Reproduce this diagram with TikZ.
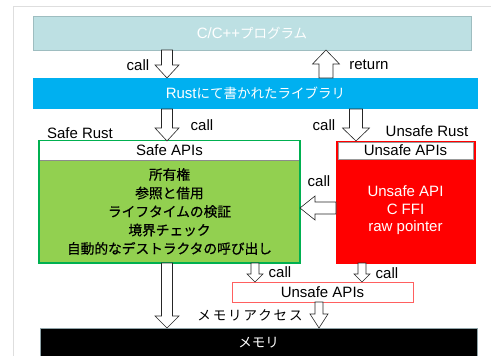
\documentclass[tikz,border=0pt]{standalone}
\usepackage{fontspec}
\setmainfont{Liberation Sans}
\newfontfamily\jp{Noto Sans CJK JP}
\newfontfamily\jpb[FakeBold=0.6]{Noto Sans CJK JP}
\newfontfamily\jps[LetterSpace=14]{Noto Sans CJK JP}
\usetikzlibrary{calc}
\definecolor{teal0}{HTML}{BDE0E3}
\definecolor{tealb}{HTML}{9EBDC0}
\definecolor{rustblue}{HTML}{00B0F0}
\definecolor{gfill}{HTML}{92D050}
\definecolor{gline}{HTML}{00B050}
\definecolor{uline}{HTML}{FF6060}
\definecolor{framec}{HTML}{DEDEDE}
\definecolor{memb}{HTML}{8FA3A8}
\newcommand\lat{\fontsize{15}{17.5}\selectfont}
\newcommand\jap{\jp\fontsize{13.5}{18.5}\selectfont}
\newcommand\japb{\jpb\fontsize{13.7}{18.5}\selectfont}
\tikzset{
  blkS/.store in=\blkS, blkH/.store in=\blkH, blkL/.store in=\blkL,
  blk/.style={draw=black!85, fill=white, line width=0.6pt, line join=miter,
    blkS=5.5, blkH=12, blkL=13,
    to path={($(\tikztostart)!\blkS pt!90:(\tikztotarget)$)
      -- ($(\tikztotarget)!\blkL pt!(\tikztostart)!\blkS pt!90:(\tikztotarget)$)
      -- ($(\tikztotarget)!\blkL pt!(\tikztostart)!\blkH pt!90:(\tikztotarget)$)
      -- (\tikztotarget)
      -- ($(\tikztotarget)!\blkL pt!(\tikztostart)!\blkH pt!-90:(\tikztotarget)$)
      -- ($(\tikztotarget)!\blkL pt!(\tikztostart)!\blkS pt!-90:(\tikztotarget)$)
      -- ($(\tikztostart)!\blkS pt!-90:(\tikztotarget)$) -- cycle}},
  small blk/.style={blk, blkS=4, blkH=8, blkL=8},
  mid blk/.style={blk, blkS=4, blkH=9, blkL=14},
  rect/.style={rectangle, inner sep=0pt, outer sep=0pt},
  lbl/.style={inner sep=0pt, font=\lat},
}
\begin{document}
\begin{tikzpicture}[x=1pt, y=-1pt]
\useasboundingbox (0,0) rectangle (491,356);
\clip (0,0) rectangle (491,356);
\draw[framec, line width=1pt] (13,360) -- (13,6) -- (495,6);

% boxes
\node[rect, fill=teal0, draw=tealb, minimum width=438pt, minimum height=34pt, text=white] (cprog) at (252,33) {\lat C/C++\jap プログラム};
\node[rect, fill=rustblue, minimum width=445pt, minimum height=31pt, text=white] (rust) at (255.5,93.5) {\lat Rust\jap にて書かれたライブラリ};

\node[rect, fill=gfill, draw=gline, line width=2pt, minimum width=261pt, minimum height=122pt] (safe) at (169.5,202) {};
\node[rect, fill=white, minimum width=259pt, minimum height=19pt] (safeh) at (169.5,150.5) {\lat Safe APIs};
\draw[black!45, line width=0.5pt] (safeh.south west) -- (safeh.south east);
\node[rect, align=center, font=\japb] (safeb) at (169.5,211.5) {所有権\\参照と借用\\ライフタイムの検証\\境界チェック\\自動的なデストラクタの呼び出し};

\node[rect, fill=red, draw=red, minimum width=139pt, minimum height=122pt] (unsafe) at (405.5,202) {};
\node[rect, fill=white, draw=black!40, line width=0.5pt, minimum width=135pt, minimum height=17pt] (unsafeh) at (405.5,150.5) {\lat Unsafe APIs};
\node[rect, align=center, font=\lat, text=white] (unsafeb) at (405.5,210.5) {Unsafe API\\C FFI\\raw pointer};

\node[rect, fill=white, draw=uline, line width=0.8pt, minimum width=181pt, minimum height=20pt] (uapis) at (322.5,292) {\lat Unsafe APIs};
\node[rect, fill=black, draw=memb, line width=0.8pt, minimum width=437pt, minimum height=29pt, text=white] (mem) at (258.5,342.5) {\jap メモリ};

% arrows
\coordinate (a1s) at (167,0 |- cprog.south);
\coordinate (a1e) at (167,0 |- rust.north);
\coordinate (a2s) at (326,0 |- rust.north);
\coordinate (a2e) at (326,0 |- cprog.south);
\coordinate (a3s) at (167,0 |- rust.south);
\coordinate (a3e) at (167,0 |- safe.north);
\coordinate (a4s) at (356,0 |- rust.south);
\coordinate (a4e) at (356,0 |- unsafe.north);
\coordinate (a5s) at (unsafe.west |- 0,208);
\coordinate (a5e) at (safe.east |- 0,208);
\coordinate (a6s) at (167,0 |- safe.south);
\coordinate (a6e) at (167,0 |- mem.north);
\coordinate (a7s) at (255,0 |- safe.south);
\coordinate (a7e) at (255,0 |- uapis.north);
\coordinate (a8s) at (362,0 |- unsafe.south);
\coordinate (a8e) at (362,0 |- uapis.north);
\coordinate (a9s) at (319,0 |- uapis.south);
\coordinate (a9e) at (319,0 |- mem.north);

\draw[blk] (a1s) to (a1e);
\draw[blk, blkS=7, blkH=13.5, blkL=14] (a2s) to (a2e);
\draw[blk] (a3s) to (a3e);
\draw[blk, blkS=6.5, blkH=13.5] (a4s) to (a4e);
\draw[blk, blkS=6, blkH=12, blkL=15] (a5s) to (a5e);
\draw[blk, blkL=12] (a6s) to (a6e);
\draw[small blk] (a7s) to (a7e);
\draw[small blk] (a8s) to (a8e);
\draw[mid blk] (a9s) to (a9e);

% labels
\node[lbl] (l1) at (138,65) {call};
\node[lbl] (l2) at (369,65) {return};
\node[lbl] (l3) at (202,125) {call};
\node[lbl] (l4) at (80,133) {Safe Rust};
\node[lbl] (l5) at (324,125) {call};
\node[lbl] (l6) at (427,131) {Unsafe Rust};
\node[lbl] (l7) at (319,181) {call};
\node[lbl] (l8) at (280,272) {call};
\node[lbl] (l9) at (387,273) {call};
\node[inner sep=0pt, font=\jps\fontsize{13.5}{16}\selectfont] (l10) at (250,315) {メモリアクセス};
\end{tikzpicture}
\end{document}
